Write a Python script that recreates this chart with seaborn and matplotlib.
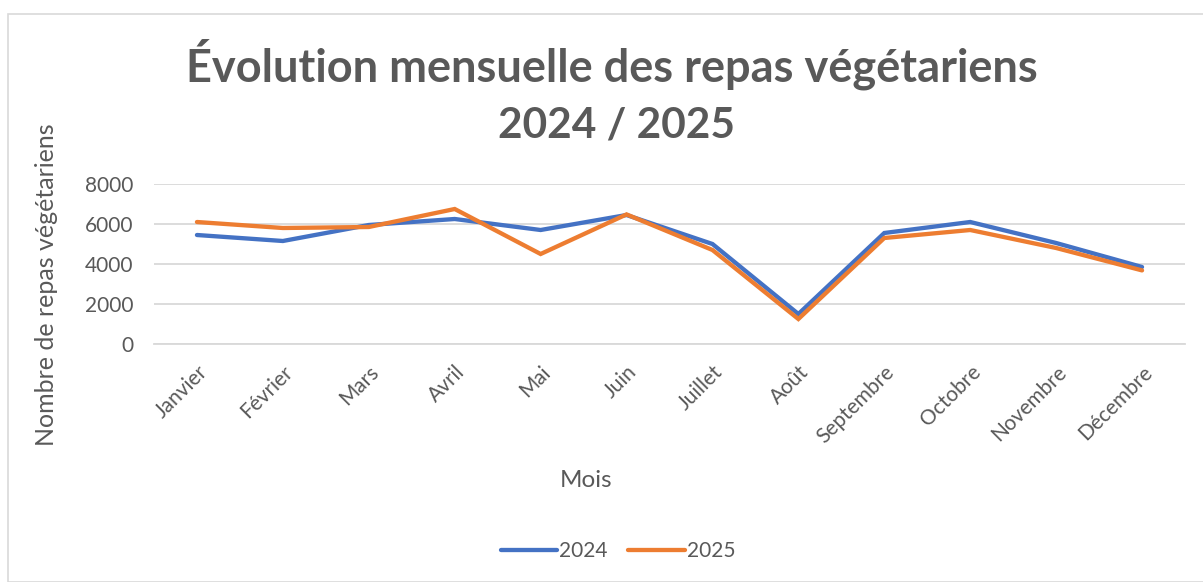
import matplotlib
matplotlib.use("Agg")
import matplotlib.pyplot as plt
import seaborn as sns
import pandas as pd
from matplotlib.patches import Rectangle

months = ["Janvier", "Février", "Mars", "Avril", "Mai", "Juin", "Juillet",
          "Août", "Septembre", "Octobre", "Novembre", "Décembre"]
values_2024 = [5450, 5150, 5950, 6250, 5700, 6450, 5000, 1500, 5550, 6100, 5050, 3850]
values_2025 = [6100, 5800, 5850, 6750, 4500, 6480, 4700, 1250, 5300, 5700, 4800, 3680]
years = ["2024", "2025"]

df = pd.DataFrame({
    "Mois": months * 2,
    "Repas": values_2024 + values_2025,
    "Année": [years[0]] * 12 + [years[1]] * 12,
})

sns.set_theme(style="white")
plt.rcParams["font.family"] = ["Lato", "DejaVu Sans"]
grey = "#595959"

fig = plt.figure(figsize=(12.03, 5.82), dpi=100)
ax = fig.add_axes([154 / 1203, 1 - 344 / 582, (1185 - 154) / 1203, (344 - 184) / 582])

sns.lineplot(data=df, x="Mois", y="Repas", hue="Année", sort=False,
             palette={"2024": "#4472C4", "2025": "#ED7D31"}, linewidth=3.1,
             ax=ax, legend=True)
for ln in ax.get_lines():
    ln.set_solid_capstyle("round")
    ln.set_solid_joinstyle("miter")

ax.set_xlim(-0.5, 11.5)
ax.set_ylim(0, 8000)
ax.set_yticks([0, 2000, 4000, 6000, 8000])
ax.yaxis.grid(True, color="#d9d9d9", linewidth=1.3)
ax.set_axisbelow(True)
for s in ["top", "right", "left"]:
    ax.spines[s].set_visible(False)
ax.spines["bottom"].set_color("#d9d9d9")
ax.spines["bottom"].set_linewidth(1.3)
ax.tick_params(axis="both", length=0, colors=grey, labelsize=15)
ax.tick_params(axis="y", pad=15)
ax.set_xticks(range(len(months)))
ax.set_xticklabels(months, rotation=45, ha="right", rotation_mode="anchor")
ax.tick_params(axis="x", pad=13)

ax.set_xlabel("Mois", color=grey, fontsize=17.5)
ax.xaxis.set_label_coords((586 - 154) / 1031, (344 - 470) / 160)
ax.set_ylabel("Nombre de repas végétariens", color=grey, fontsize=18)
ax.yaxis.set_label_coords((58 - 154) / 1031, (344 - 285) / 160)

handles, labels = ax.get_legend_handles_labels()
ax.get_legend().remove()
fig.legend(handles, labels, loc="center", bbox_to_anchor=(618 / 1203, 1 - 551 / 582),
           ncol=2, frameon=False, fontsize=15, handlelength=2.7, columnspacing=1.0,
           handletextpad=0.1, labelcolor=grey)

fig.text(612 / 1203, 1 - 64 / 582, "Évolution mensuelle des repas végétariens",
         ha="center", va="center", fontsize=32.5, fontweight="bold", color=grey)
fig.text(617 / 1203, 1 - 125 / 582, "2024 / 2025",
         ha="center", va="center", fontsize=30.5, fontweight="bold", color=grey)

fig.patches.append(Rectangle((8 / 1203, 0), 1.0, 1 - 14 / 582, transform=fig.transFigure,
                             fill=False, edgecolor="#d9d9d9", linewidth=1.2))

fig.savefig("out.png", dpi=100)
